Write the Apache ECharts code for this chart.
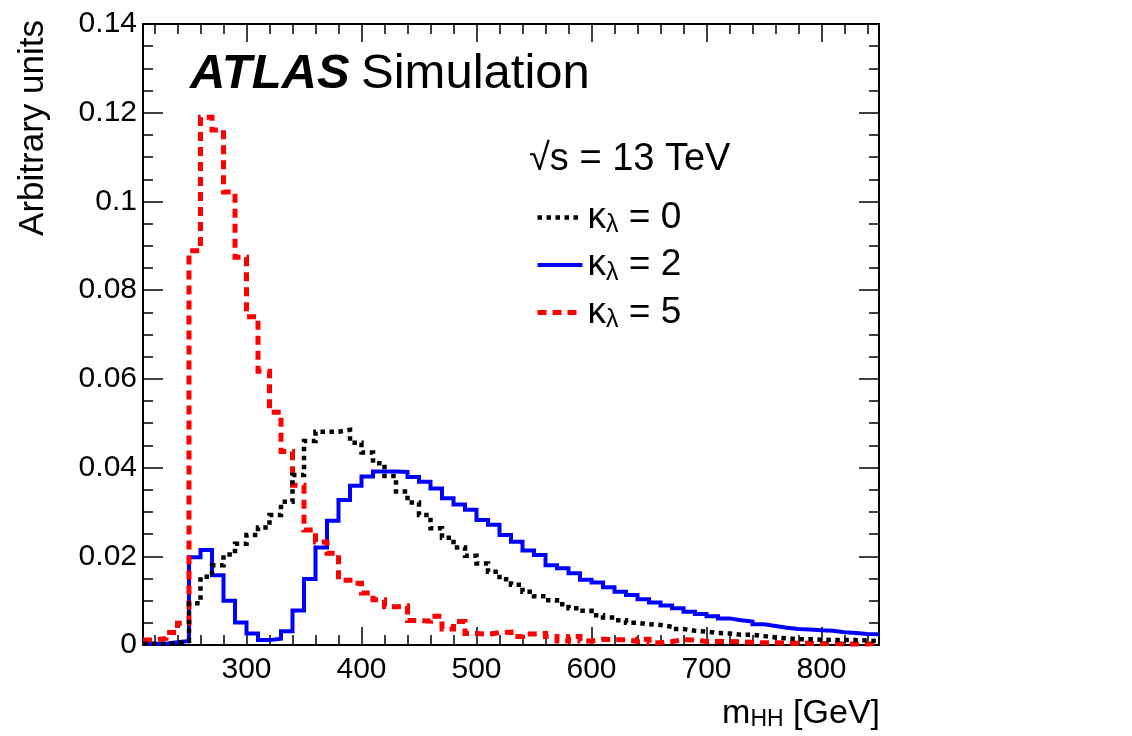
<!DOCTYPE html>
<html>
<head>
<meta charset="utf-8">
<script src="https://cdn.jsdelivr.net/npm/echarts@6/dist/echarts.min.js"></script>
<style>
html,body{margin:0;padding:0;background:#fff;}
#chart{width:1132px;height:736px;}
</style>
</head>
<body>
<div id="chart"></div>
<script>
// Bin low edges of m_HH [GeV] (10 GeV bins), last bin upper edge
const binLow = [210,220,230,240,250,260,270,280,290,300,310,320,330,340,350,360,370,380,390,400,
  410,420,430,440,450,460,470,480,490,500,510,520,530,540,550,560,570,580,590,600,
  610,620,630,640,650,660,670,680,690,700,710,720,730,740,750,760,770,780,790,800,
  810,820,830,840];
const lastEdge = 850;

// kappa_lambda = 0 (black dotted)
const kl0 = [0.0003,0.0003,0.0005,0.0009,
  0.0094,0.0154,0.0180,0.0204,0.0228,0.0248,0.0265,0.0293,0.0323,0.0383,
  0.0460,0.0481,0.0481,0.0485,0.0456,0.0434,0.0410,0.0381,0.0346,0.0321,
  0.0293,0.0263,0.0242,0.0220,0.0201,0.0184,0.0165,0.0148,0.0136,0.0120,
  0.0110,0.0101,0.0092,0.0083,0.0077,0.0067,0.0062,0.0056,0.0050,0.0047,
  0.0045,0.0041,0.0036,0.0032,0.0030,0.0027,0.0026,0.0023,0.0023,0.0020,
  0.0017,0.0015,0.0013,0.0013,0.0012,0.0011,0.0011,0.0011,0.0010,0.0009];

// kappa_lambda = 2 (blue solid)
const kl2 = [0.0003,0.0003,0.0006,0.0009,
  0.0198,0.0214,0.0157,0.0100,0.0051,0.0026,0.0011,0.0014,0.0031,0.0078,
  0.0149,0.0220,0.0280,0.0327,0.0359,0.0380,0.0391,0.0391,0.0390,0.0379,
  0.0368,0.0353,0.0331,0.0317,0.0305,0.0282,0.0271,0.0248,0.0233,0.0213,
  0.0203,0.0180,0.0173,0.0162,0.0147,0.0141,0.0130,0.0120,0.0113,0.0103,
  0.0096,0.0089,0.0083,0.0075,0.0070,0.0065,0.0060,0.0056,0.0053,0.0047,
  0.0043,0.0039,0.0036,0.0035,0.0033,0.0032,0.0029,0.0027,0.0025,0.0024];

// kappa_lambda = 5 (red dashed)
const kl5 = [0.0011,0.0015,0.0028,0.0049,
  0.0889,0.1190,0.1161,0.1021,0.0874,0.0740,0.0617,0.0525,0.0436,0.0360,
  0.0259,0.0232,0.0207,0.0146,0.0139,0.0117,0.0102,0.0086,0.0088,0.0055,
  0.0054,0.0065,0.0036,0.0053,0.0026,0.0024,0.0028,0.0029,0.0019,0.0025,
  0.0026,0.0019,0.0009,0.0019,0.0009,0.0013,0.0012,0.0012,0.0008,0.0013,
  0.0005,0.0008,0.0012,0.0011,0.0008,0.0008,0.0008,0.0007,0.0006,0.0005,
  0.0005,0.0004,0.0004,0.0004,0.0003,0.0004,0.0002,0.0002,0.0002,0.0005];

const seriesNames = ['κλ = 0', 'κλ = 2', 'κλ = 5'];
const kappaValues = ['0', '2', '5'];

const xMajorTicks = [300,400,500,600,700,800];
const xMinorTicks = [220,240,260,280,320,340,360,380,420,440,460,480,520,540,560,580,
  620,640,660,680,720,740,760,780,820,840];

const FONT = "'Liberation Sans', Arial, Helvetica, sans-serif";

const blackLine = {color: '#000', width: 4.5, type: [4.5, 4.5], cap: 'butt', join: 'miter'};
const blueLine = {color: '#0000ff', width: 4, type: 'solid', join: 'miter'};
const redLine = {color: '#ff0000', width: 5, type: [9, 6], cap: 'butt', join: 'miter'};

function hist(vals) {
  const d = binLow.map((e, i) => [e, vals[i]]);
  d.push([lastEdge, vals[vals.length - 1]]);
  return d;
}

function xAx(pos, ticks, len, label, line) {
  return {
    type: 'value', min: 210, max: 850, position: pos,
    axisLine: {show: line, onZero: false, lineStyle: {color: '#000', width: 2}},
    axisTick: {show: true, inside: true, length: len, customValues: ticks, lineStyle: {color: '#000', width: 1.5}},
    axisLabel: label ? {show: true, customValues: ticks, fontSize: 30, fontFamily: FONT, color: '#000', margin: 10} : {show: false},
    splitLine: {show: false}
  };
}
function yAx(pos, interval, len, label, line) {
  return {
    type: 'value', min: 0, max: 0.14, interval: interval, position: pos,
    axisLine: {show: line, onZero: false, lineStyle: {color: '#000', width: 2}},
    axisTick: {show: true, inside: true, length: len, lineStyle: {color: '#000', width: 1.5}},
    axisLabel: label ? {show: true, fontSize: 30, fontFamily: FONT, color: '#000', margin: 6} : {show: false},
    splitLine: {show: false}
  };
}

const chart = echarts.init(document.getElementById('chart'), null, {renderer: 'canvas'});
chart.setOption({
  animation: false,
  backgroundColor: '#fff',
  grid: {left: 143, top: 24, right: 253, bottom: 91, containLabel: false},
  xAxis: [
    xAx('bottom', xMajorTicks, 18, true, true),
    xAx('bottom', xMinorTicks, 10, false, false),
    xAx('top', xMajorTicks, 18, false, true),
    xAx('top', xMinorTicks, 10, false, false)
  ],
  yAxis: [
    yAx('left', 0.02, 20, true, true),
    yAx('left', 0.005, 10, false, false),
    yAx('right', 0.02, 20, false, true),
    yAx('right', 0.005, 10, false, false)
  ],
  legend: {
    orient: 'vertical', left: 535, top: 199, padding: 0,
    itemWidth: 45, itemHeight: 14, itemGap: 8.5,
    data: [
      {name: seriesNames[0], lineStyle: blackLine},
      {name: seriesNames[1], lineStyle: blueLine},
      {name: seriesNames[2], lineStyle: redLine}
    ],
    itemStyle: {opacity: 0},
    formatter: function (name) {
      const k = kappaValues[seriesNames.indexOf(name)];
      return '{k|κ}{l|λ}{k| = ' + k + '}';
    },
    textStyle: {
      fontFamily: FONT, fontSize: 37, color: '#000',
      rich: {
        k: {fontFamily: FONT, fontSize: 37, color: '#000', lineHeight: 46},
        l: {fontFamily: FONT, fontSize: 25, color: '#000', padding: [16, 0, 0, 0]}
      }
    }
  },
  graphic: [
    {type: 'text', left: 190, top: 50, style: {
      text: '{a|ATLAS} {b|Simulation}', fill: '#000',
      rich: {
        a: {fontFamily: FONT, fontSize: 49, fontWeight: 'bold', fontStyle: 'italic', fill: '#000'},
        b: {fontFamily: FONT, fontSize: 49, fill: '#000', padding: [0, 0, 0, 8]}
      }
    }},
    {type: 'text', left: 529, top: 141, style: {
      text: '√s = 13 TeV', fontFamily: FONT, fontSize: 38, fill: '#000'
    }},
    {type: 'text', x: 33, y: 20, rotation: Math.PI / 2, style: {
      text: 'Arbitrary units', fontFamily: FONT, fontSize: 35, fill: '#000',
      align: 'right', verticalAlign: 'middle'
    }},
    {type: 'text', right: 252, top: 697, style: {
      text: '{m|m}{s|HH}{m| [GeV]}', fill: '#000',
      rich: {
        m: {fontFamily: FONT, fontSize: 34, fill: '#000', lineHeight: 34, verticalAlign: 'top'},
        s: {fontFamily: FONT, fontSize: 23, fill: '#000', lineHeight: 8, verticalAlign: 'bottom'}
      }
    }}
  ],
  series: [
    {name: seriesNames[0], type: 'line', step: 'end', data: hist(kl0), symbol: 'none', z: 4,
      itemStyle: {color: '#000'}, lineStyle: blackLine},
    {name: seriesNames[1], type: 'line', step: 'end', data: hist(kl2), symbol: 'none', z: 2,
      itemStyle: {color: '#0000ff'}, lineStyle: blueLine},
    {name: seriesNames[2], type: 'line', step: 'end', data: hist(kl5), symbol: 'none', z: 3,
      itemStyle: {color: '#ff0000'}, lineStyle: redLine}
  ]
});
</script>
</body>
</html>
